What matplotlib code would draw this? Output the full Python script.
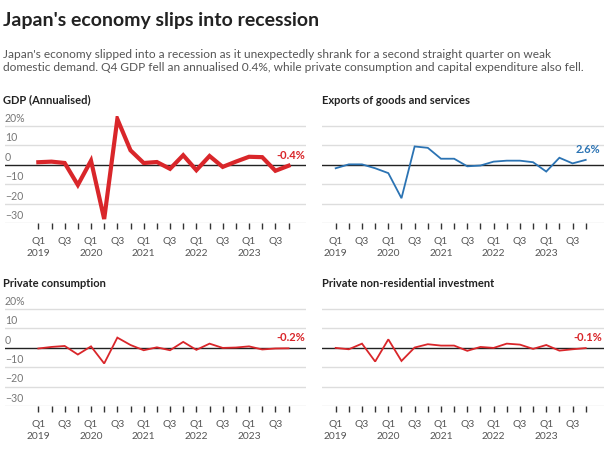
import matplotlib

matplotlib.use("Agg")

import matplotlib.pyplot as plt
from matplotlib.transforms import blended_transform_factory

plt.rcParams["font.family"] = ["Lato", "DejaVu Sans"]

# Quarters Q1 2019 .. Q4 2023
QUARTERS = [f"Q{q}" for _ in range(2019, 2024) for q in (1, 2, 3, 4)]
YEARS = [y for y in range(2019, 2024) for _ in range(4)]

gdp = [1.4, 1.7, 1.0, -10.3, 2.2, -27.8, 23.6, 7.5, 1.0, 1.5,
       -2.0, 5.0, -2.7, 4.6, -1.0, 1.7, 4.2, 4.0, -3.0, -0.4]
exports = [-1.7, 0.3, 0.3, -1.7, -4.2, -17.1, 9.5, 8.8, 3.2, 3.2,
           -0.7, -0.3, 1.7, 2.2, 2.2, 1.4, -3.4, 3.7, 0.8, 2.6]
consumption = [-0.3, 0.5, 1.0, -3.4, 0.8, -8.0, 5.3, 1.5, -1.2, 0.3,
               -1.2, 3.1, -1.0, 2.2, 0.0, 0.2, 0.8, -0.8, -0.3, -0.2]
investment = [0.0, -0.7, 2.2, -7.0, 4.4, -6.7, 0.2, 1.9, 1.2, 1.2,
              -1.5, 0.5, 0.0, 2.2, 1.7, -0.5, 1.5, -1.4, -0.7, -0.1]

y_ticks = [20, 10, 0, -10, -20, -30]
y_tick_labels = ["20%", "10", "0", "\u221210", "\u221220", "\u221230"]

RED = "#d9262a"
BLUE = "#2b73b3"

panels = [
    # title, values, colour, lw, end label, rect, xlim, show y labels
    ("GDP (Annualised)", gdp, RED, 3.0, "-0.4%",
     [0.0083, 0.5156, 0.498, 0.2321], (-2.53, 20.31), True),
    ("Exports of goods and services", exports, BLUE, 1.3, "2.6%",
     [0.5331, 0.5156, 0.4669, 0.2321], (-1.04, 20.39), False),
    ("Private consumption", consumption, RED, 1.3, "-0.2%",
     [0.0083, 0.1187, 0.498, 0.2321], (-2.53, 20.31), True),
    ("Private non-residential investment", investment, RED, 1.3, "-0.1%",
     [0.5331, 0.1187, 0.4669, 0.2321], (-1.04, 20.39), False),
]

fig = plt.figure(figsize=(6.04, 4.61), dpi=100)
fig.text(0.005, 0.955, "Japan's economy slips into recession", fontsize=14,
         fontweight="bold", color="#222222", va="center")
fig.text(0.005, 0.868,
         "Japan's economy slipped into a recession as it unexpectedly shrank for a second straight quarter on weak\n"
         "domestic demand. Q4 GDP fell an annualised 0.4%, while private consumption and capital expenditure also fell.",
         fontsize=8.6, color="#555555", va="center", linespacing=1.25)

x = list(range(len(QUARTERS)))
tick_labels = []
for q, y in zip(QUARTERS, YEARS):
    if q == "Q1":
        tick_labels.append(f"Q1\n{y}")
    elif q == "Q3":
        tick_labels.append("Q3")
    else:
        tick_labels.append("")

for title, values, color, lw, end_label, rect, xlim, show_y in panels:
    ax = fig.add_axes(rect)
    ax.set_xlim(*xlim)
    ax.set_ylim(-30, 25)
    for s in ax.spines.values():
        s.set_visible(False)
    for yt in y_ticks:
        if yt == 0:
            continue
        ax.axhline(yt, color="#dddddd", lw=1.0, zorder=0)
    ax.axhline(0, color="#222222", lw=1.0, zorder=1)
    ax.plot(x, values, color=color, lw=lw, solid_joinstyle="miter", zorder=3)
    ax.annotate(end_label, (x[-1], values[-1]), xytext=(1.5, 7.5),
                textcoords="offset points", ha="center", va="center",
                color=color, fontsize=8, fontweight="bold")
    ax.set_yticks([])
    ax.set_xticks(x)
    ax.set_xticklabels(tick_labels, fontsize=7.4, color="#555555", linespacing=1.35)
    ax.tick_params(axis="x", length=4, width=1, color="#333333", pad=6)
    if show_y:
        trans = blended_transform_factory(ax.transAxes, ax.transData)
        for yt, lab in zip(y_ticks, y_tick_labels):
            ax.text(0.0, yt + 1.2, lab, transform=trans, ha="left", va="bottom",
                    fontsize=7.6, color="#777777")
    top = rect[1] + rect[3]
    fig.text(rect[0] - (0.004 if show_y else 0.0), top + 0.035, title,
             fontsize=8.0, fontweight="bold", color="#222222", va="center")

fig.savefig("out.png", dpi=100)
